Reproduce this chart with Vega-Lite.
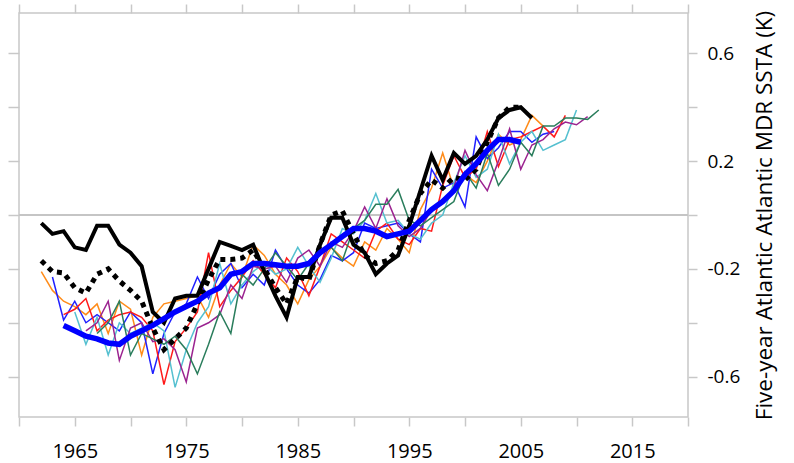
{
"$schema": "https://vega.github.io/schema/vega-lite/v6.json",
"width": 669, "height": 404,
"autosize": {"type": "none"},
"padding": {"left": 19, "top": 13, "right": 106, "bottom": 46},
"background": "white",
"config": {"view": {"stroke": "#c8c8c8", "strokeWidth": 1.5}, "font": "Open Sans"},
"datasets": {
"thin": [
{"s":"m1","t":1962,"v":-0.21},{"s":"m1","t":1963,"v":-0.28},{"s":"m1","t":1964,"v":-0.32},{"s":"m1","t":1965,"v":-0.34},{"s":"m1","t":1966,"v":-0.37},{"s":"m1","t":1967,"v":-0.33},{"s":"m1","t":1968,"v":-0.44},{"s":"m1","t":1969,"v":-0.32},{"s":"m1","t":1970,"v":-0.35},{"s":"m1","t":1971,"v":-0.52},{"s":"m1","t":1972,"v":-0.38},{"s":"m1","t":1973,"v":-0.33},{"s":"m1","t":1974,"v":-0.32},{"s":"m1","t":1975,"v":-0.31},{"s":"m1","t":1976,"v":-0.30},{"s":"m1","t":1977,"v":-0.38},{"s":"m1","t":1978,"v":-0.26},{"s":"m1","t":1979,"v":-0.18},{"s":"m1","t":1980,"v":-0.23},{"s":"m1","t":1981,"v":-0.11},{"s":"m1","t":1982,"v":-0.15},{"s":"m1","t":1983,"v":-0.22},{"s":"m1","t":1984,"v":-0.26},{"s":"m1","t":1985,"v":-0.33},{"s":"m1","t":1986,"v":-0.24},{"s":"m1","t":1987,"v":-0.19},{"s":"m1","t":1988,"v":-0.12},{"s":"m1","t":1989,"v":-0.16},{"s":"m1","t":1990,"v":-0.19},{"s":"m1","t":1991,"v":-0.10},{"s":"m1","t":1992,"v":-0.13},{"s":"m1","t":1993,"v":-0.05},{"s":"m1","t":1994,"v":-0.09},{"s":"m1","t":1995,"v":-0.14},{"s":"m1","t":1996,"v":0.02},{"s":"m1","t":1997,"v":0.10},{"s":"m1","t":1998,"v":0.23},{"s":"m1","t":1999,"v":0.10},{"s":"m1","t":2000,"v":0.15},{"s":"m1","t":2001,"v":0.12},{"s":"m1","t":2002,"v":0.20},{"s":"m1","t":2003,"v":0.30},{"s":"m1","t":2004,"v":0.26},{"s":"m1","t":2005,"v":0.28},{"s":"m1","t":2006,"v":0.37},{"s":"m1","t":2007,"v":0.33},
{"s":"m2","t":1963,"v":-0.23},{"s":"m2","t":1964,"v":-0.39},{"s":"m2","t":1965,"v":-0.32},{"s":"m2","t":1966,"v":-0.40},{"s":"m2","t":1967,"v":-0.37},{"s":"m2","t":1968,"v":-0.40},{"s":"m2","t":1969,"v":-0.43},{"s":"m2","t":1970,"v":-0.36},{"s":"m2","t":1971,"v":-0.40},{"s":"m2","t":1972,"v":-0.59},{"s":"m2","t":1973,"v":-0.44},{"s":"m2","t":1974,"v":-0.36},{"s":"m2","t":1975,"v":-0.33},{"s":"m2","t":1976,"v":-0.23},{"s":"m2","t":1977,"v":-0.31},{"s":"m2","t":1978,"v":-0.22},{"s":"m2","t":1979,"v":-0.18},{"s":"m2","t":1980,"v":-0.27},{"s":"m2","t":1981,"v":-0.22},{"s":"m2","t":1982,"v":-0.26},{"s":"m2","t":1983,"v":-0.13},{"s":"m2","t":1984,"v":-0.20},{"s":"m2","t":1985,"v":-0.26},{"s":"m2","t":1986,"v":-0.29},{"s":"m2","t":1987,"v":-0.24},{"s":"m2","t":1988,"v":-0.15},{"s":"m2","t":1989,"v":-0.17},{"s":"m2","t":1990,"v":-0.14},{"s":"m2","t":1991,"v":-0.03},{"s":"m2","t":1992,"v":-0.05},{"s":"m2","t":1993,"v":-0.04},{"s":"m2","t":1994,"v":-0.03},{"s":"m2","t":1995,"v":-0.07},{"s":"m2","t":1996,"v":-0.10},{"s":"m2","t":1997,"v":0.17},{"s":"m2","t":1998,"v":0.10},{"s":"m2","t":1999,"v":0.12},{"s":"m2","t":2000,"v":0.03},{"s":"m2","t":2001,"v":0.29},{"s":"m2","t":2002,"v":0.21},{"s":"m2","t":2003,"v":0.25},{"s":"m2","t":2004,"v":0.31},{"s":"m2","t":2005,"v":0.31},{"s":"m2","t":2006,"v":0.27},{"s":"m2","t":2007,"v":0.30},{"s":"m2","t":2008,"v":0.31},
{"s":"m3","t":1964,"v":-0.37},{"s":"m3","t":1965,"v":-0.35},{"s":"m3","t":1966,"v":-0.31},{"s":"m3","t":1967,"v":-0.43},{"s":"m3","t":1968,"v":-0.39},{"s":"m3","t":1969,"v":-0.37},{"s":"m3","t":1970,"v":-0.36},{"s":"m3","t":1971,"v":-0.38},{"s":"m3","t":1972,"v":-0.43},{"s":"m3","t":1973,"v":-0.63},{"s":"m3","t":1974,"v":-0.47},{"s":"m3","t":1975,"v":-0.42},{"s":"m3","t":1976,"v":-0.36},{"s":"m3","t":1977,"v":-0.14},{"s":"m3","t":1978,"v":-0.34},{"s":"m3","t":1979,"v":-0.28},{"s":"m3","t":1980,"v":-0.23},{"s":"m3","t":1981,"v":-0.17},{"s":"m3","t":1982,"v":-0.22},{"s":"m3","t":1983,"v":-0.27},{"s":"m3","t":1984,"v":-0.16},{"s":"m3","t":1985,"v":-0.21},{"s":"m3","t":1986,"v":-0.30},{"s":"m3","t":1987,"v":-0.19},{"s":"m3","t":1988,"v":-0.07},{"s":"m3","t":1989,"v":-0.10},{"s":"m3","t":1990,"v":-0.13},{"s":"m3","t":1991,"v":-0.16},{"s":"m3","t":1992,"v":-0.06},{"s":"m3","t":1993,"v":-0.03},{"s":"m3","t":1994,"v":-0.09},{"s":"m3","t":1995,"v":-0.11},{"s":"m3","t":1996,"v":-0.05},{"s":"m3","t":1997,"v":-0.06},{"s":"m3","t":1998,"v":0.11},{"s":"m3","t":1999,"v":0.22},{"s":"m3","t":2000,"v":0.14},{"s":"m3","t":2001,"v":0.17},{"s":"m3","t":2002,"v":0.31},{"s":"m3","t":2003,"v":0.18},{"s":"m3","t":2004,"v":0.28},{"s":"m3","t":2005,"v":0.29},{"s":"m3","t":2006,"v":0.31},{"s":"m3","t":2007,"v":0.33},{"s":"m3","t":2008,"v":0.29},{"s":"m3","t":2009,"v":0.37},
{"s":"m4","t":1965,"v":-0.36},{"s":"m4","t":1966,"v":-0.48},{"s":"m4","t":1967,"v":-0.38},{"s":"m4","t":1968,"v":-0.52},{"s":"m4","t":1969,"v":-0.40},{"s":"m4","t":1970,"v":-0.44},{"s":"m4","t":1971,"v":-0.42},{"s":"m4","t":1972,"v":-0.40},{"s":"m4","t":1973,"v":-0.43},{"s":"m4","t":1974,"v":-0.64},{"s":"m4","t":1975,"v":-0.50},{"s":"m4","t":1976,"v":-0.40},{"s":"m4","t":1977,"v":-0.34},{"s":"m4","t":1978,"v":-0.18},{"s":"m4","t":1979,"v":-0.33},{"s":"m4","t":1980,"v":-0.26},{"s":"m4","t":1981,"v":-0.21},{"s":"m4","t":1982,"v":-0.18},{"s":"m4","t":1983,"v":-0.22},{"s":"m4","t":1984,"v":-0.20},{"s":"m4","t":1985,"v":-0.12},{"s":"m4","t":1986,"v":-0.19},{"s":"m4","t":1987,"v":-0.25},{"s":"m4","t":1988,"v":-0.16},{"s":"m4","t":1989,"v":-0.05},{"s":"m4","t":1990,"v":-0.07},{"s":"m4","t":1991,"v":-0.02},{"s":"m4","t":1992,"v":0.08},{"s":"m4","t":1993,"v":-0.03},{"s":"m4","t":1994,"v":-0.02},{"s":"m4","t":1995,"v":-0.07},{"s":"m4","t":1996,"v":-0.09},{"s":"m4","t":1997,"v":-0.03},{"s":"m4","t":1998,"v":0.00},{"s":"m4","t":1999,"v":0.12},{"s":"m4","t":2000,"v":0.22},{"s":"m4","t":2001,"v":0.14},{"s":"m4","t":2002,"v":0.17},{"s":"m4","t":2003,"v":0.30},{"s":"m4","t":2004,"v":0.19},{"s":"m4","t":2005,"v":0.27},{"s":"m4","t":2006,"v":0.31},{"s":"m4","t":2007,"v":0.24},{"s":"m4","t":2008,"v":0.26},{"s":"m4","t":2009,"v":0.28},{"s":"m4","t":2010,"v":0.39},
{"s":"m5","t":1966,"v":-0.43},{"s":"m5","t":1967,"v":-0.40},{"s":"m5","t":1968,"v":-0.32},{"s":"m5","t":1969,"v":-0.54},{"s":"m5","t":1970,"v":-0.42},{"s":"m5","t":1971,"v":-0.40},{"s":"m5","t":1972,"v":-0.47},{"s":"m5","t":1973,"v":-0.46},{"s":"m5","t":1974,"v":-0.50},{"s":"m5","t":1975,"v":-0.62},{"s":"m5","t":1976,"v":-0.42},{"s":"m5","t":1977,"v":-0.40},{"s":"m5","t":1978,"v":-0.37},{"s":"m5","t":1979,"v":-0.26},{"s":"m5","t":1980,"v":-0.31},{"s":"m5","t":1981,"v":-0.19},{"s":"m5","t":1982,"v":-0.20},{"s":"m5","t":1983,"v":-0.19},{"s":"m5","t":1984,"v":-0.25},{"s":"m5","t":1985,"v":-0.16},{"s":"m5","t":1986,"v":-0.13},{"s":"m5","t":1987,"v":-0.19},{"s":"m5","t":1988,"v":-0.10},{"s":"m5","t":1989,"v":-0.12},{"s":"m5","t":1990,"v":-0.06},{"s":"m5","t":1991,"v":0.03},{"s":"m5","t":1992,"v":-0.05},{"s":"m5","t":1993,"v":0.06},{"s":"m5","t":1994,"v":-0.04},{"s":"m5","t":1995,"v":-0.08},{"s":"m5","t":1996,"v":-0.05},{"s":"m5","t":1997,"v":0.02},{"s":"m5","t":1998,"v":0.05},{"s":"m5","t":1999,"v":0.10},{"s":"m5","t":2000,"v":0.24},{"s":"m5","t":2001,"v":0.15},{"s":"m5","t":2002,"v":0.09},{"s":"m5","t":2003,"v":0.20},{"s":"m5","t":2004,"v":0.32},{"s":"m5","t":2005,"v":0.17},{"s":"m5","t":2006,"v":0.26},{"s":"m5","t":2007,"v":0.28},{"s":"m5","t":2008,"v":0.32},{"s":"m5","t":2009,"v":0.345},{"s":"m5","t":2010,"v":0.335},{"s":"m5","t":2011,"v":0.365},
{"s":"m6","t":1967,"v":-0.44},{"s":"m6","t":1968,"v":-0.40},{"s":"m6","t":1969,"v":-0.32},{"s":"m6","t":1970,"v":-0.52},{"s":"m6","t":1971,"v":-0.44},{"s":"m6","t":1972,"v":-0.46},{"s":"m6","t":1973,"v":-0.48},{"s":"m6","t":1974,"v":-0.45},{"s":"m6","t":1975,"v":-0.50},{"s":"m6","t":1976,"v":-0.59},{"s":"m6","t":1977,"v":-0.48},{"s":"m6","t":1978,"v":-0.36},{"s":"m6","t":1979,"v":-0.44},{"s":"m6","t":1980,"v":-0.22},{"s":"m6","t":1981,"v":-0.26},{"s":"m6","t":1982,"v":-0.20},{"s":"m6","t":1983,"v":-0.14},{"s":"m6","t":1984,"v":-0.19},{"s":"m6","t":1985,"v":-0.24},{"s":"m6","t":1986,"v":-0.18},{"s":"m6","t":1987,"v":-0.13},{"s":"m6","t":1988,"v":-0.12},{"s":"m6","t":1989,"v":-0.17},{"s":"m6","t":1990,"v":-0.05},{"s":"m6","t":1991,"v":-0.02},{"s":"m6","t":1992,"v":0.04},{"s":"m6","t":1993,"v":0.04},{"s":"m6","t":1994,"v":0.095},{"s":"m6","t":1995,"v":-0.02},{"s":"m6","t":1996,"v":-0.04},{"s":"m6","t":1997,"v":-0.01},{"s":"m6","t":1998,"v":0.02},{"s":"m6","t":1999,"v":0.05},{"s":"m6","t":2000,"v":0.16},{"s":"m6","t":2001,"v":0.10},{"s":"m6","t":2002,"v":0.23},{"s":"m6","t":2003,"v":0.11},{"s":"m6","t":2004,"v":0.17},{"s":"m6","t":2005,"v":0.27},{"s":"m6","t":2006,"v":0.22},{"s":"m6","t":2007,"v":0.33},{"s":"m6","t":2008,"v":0.33},{"s":"m6","t":2009,"v":0.36},{"s":"m6","t":2010,"v":0.36},{"s":"m6","t":2011,"v":0.355},{"s":"m6","t":2012,"v":0.39}
],
"obs": [
{"t":1962,"v":-0.03},{"t":1963,"v":-0.07},{"t":1964,"v":-0.06},{"t":1965,"v":-0.12},{"t":1966,"v":-0.13},{"t":1967,"v":-0.04},{"t":1968,"v":-0.04},{"t":1969,"v":-0.11},{"t":1970,"v":-0.14},{"t":1971,"v":-0.19},{"t":1972,"v":-0.36},{"t":1973,"v":-0.40},{"t":1974,"v":-0.31},{"t":1975,"v":-0.30},{"t":1976,"v":-0.30},{"t":1977,"v":-0.20},{"t":1978,"v":-0.10},{"t":1979,"v":-0.115},{"t":1980,"v":-0.13},{"t":1981,"v":-0.11},{"t":1982,"v":-0.21},{"t":1983,"v":-0.30},{"t":1984,"v":-0.38},{"t":1985,"v":-0.23},{"t":1986,"v":-0.23},{"t":1987,"v":-0.11},{"t":1988,"v":-0.01},{"t":1989,"v":-0.01},{"t":1990,"v":-0.11},{"t":1991,"v":-0.14},{"t":1992,"v":-0.22},{"t":1993,"v":-0.18},{"t":1994,"v":-0.15},{"t":1995,"v":-0.04},{"t":1996,"v":0.09},{"t":1997,"v":0.22},{"t":1998,"v":0.13},{"t":1999,"v":0.23},{"t":2000,"v":0.19},{"t":2001,"v":0.22},{"t":2002,"v":0.28},{"t":2003,"v":0.36},{"t":2004,"v":0.39},{"t":2005,"v":0.40},{"t":2006,"v":0.36}
],
"obs2": [
{"t":1962,"v":-0.17},{"t":1963,"v":-0.21},{"t":1964,"v":-0.215},{"t":1965,"v":-0.27},{"t":1966,"v":-0.29},{"t":1967,"v":-0.22},{"t":1968,"v":-0.20},{"t":1969,"v":-0.245},{"t":1970,"v":-0.28},{"t":1971,"v":-0.32},{"t":1972,"v":-0.42},{"t":1973,"v":-0.50},{"t":1974,"v":-0.46},{"t":1975,"v":-0.42},{"t":1976,"v":-0.33},{"t":1977,"v":-0.24},{"t":1978,"v":-0.165},{"t":1979,"v":-0.165},{"t":1980,"v":-0.16},{"t":1981,"v":-0.13},{"t":1982,"v":-0.20},{"t":1983,"v":-0.27},{"t":1984,"v":-0.33},{"t":1985,"v":-0.23},{"t":1986,"v":-0.24},{"t":1987,"v":-0.11},{"t":1988,"v":0.0},{"t":1989,"v":0.015},{"t":1990,"v":-0.07},{"t":1991,"v":-0.15},{"t":1992,"v":-0.18},{"t":1993,"v":-0.17},{"t":1994,"v":-0.13},{"t":1995,"v":-0.02},{"t":1996,"v":0.08},{"t":1997,"v":0.13},{"t":1998,"v":0.10},{"t":1999,"v":0.14},{"t":2000,"v":0.13},{"t":2001,"v":0.17},{"t":2002,"v":0.27},{"t":2003,"v":0.36},{"t":2004,"v":0.40},{"t":2005,"v":0.40}
],
"mean": [
{"t":1964,"v":-0.41},{"t":1965,"v":-0.43},{"t":1966,"v":-0.45},{"t":1967,"v":-0.46},{"t":1968,"v":-0.475},{"t":1969,"v":-0.48},{"t":1970,"v":-0.45},{"t":1971,"v":-0.43},{"t":1972,"v":-0.41},{"t":1973,"v":-0.385},{"t":1974,"v":-0.36},{"t":1975,"v":-0.34},{"t":1976,"v":-0.32},{"t":1977,"v":-0.29},{"t":1978,"v":-0.27},{"t":1979,"v":-0.22},{"t":1980,"v":-0.21},{"t":1981,"v":-0.18},{"t":1982,"v":-0.18},{"t":1983,"v":-0.185},{"t":1984,"v":-0.19},{"t":1985,"v":-0.19},{"t":1986,"v":-0.18},{"t":1987,"v":-0.14},{"t":1988,"v":-0.11},{"t":1989,"v":-0.08},{"t":1990,"v":-0.05},{"t":1991,"v":-0.05},{"t":1992,"v":-0.06},{"t":1993,"v":-0.08},{"t":1994,"v":-0.07},{"t":1995,"v":-0.06},{"t":1996,"v":-0.02},{"t":1997,"v":0.02},{"t":1998,"v":0.05},{"t":1999,"v":0.09},{"t":2000,"v":0.15},{"t":2001,"v":0.19},{"t":2002,"v":0.24},{"t":2003,"v":0.28},{"t":2004,"v":0.28},{"t":2005,"v":0.27}
]
},
"layer": [
{"data": {"name": "mean"}, "mark": {"type": "rule", "color": "#c4c4c4", "strokeWidth": 1.5},
 "encoding": {"y": {"datum": 0, "type": "quantitative", "axis": null}}},
{"data": {"name": "thin"}, "mark": {"type": "line", "strokeWidth": 1.5},
 "encoding": {
  "x": {"field": "t", "type": "quantitative", "scale": {"domain": [1960, 2020], "nice": false, "zero": false},
        "axis": {"orient": "bottom", "values": [1960,1965,1970,1975,1980,1985,1990,1995,2000,2005,2010,2015,2020], "format": "d",
                 "labelExpr": "datum.value % 10 == 5 ? datum.label : ''", "labelFlush": false, "labelOverlap": false,
                 "domain": false, "grid": false, "tickColor": "#c8c8c8", "tickWidth": 1.5, "tickSize": 9,
                 "labelFontSize": 20, "labelColor": "#000", "labelPadding": 15, "labelFont": "Open Sans", "title": null}},
  "y": {"field": "v", "type": "quantitative", "scale": {"domain": [-0.75, 0.75], "nice": false, "zero": false},
        "axis": {"orient": "right", "values": [-0.6,-0.4,-0.2,0,0.2,0.4,0.6], "format": ".1f",
                 "labelExpr": "abs(round(datum.value*10)) % 4 == 2 ? replace(datum.label, '\u2212', '-') : ''",
                 "labelOverlap": false, "labelFlush": false,
                 "domain": false, "grid": false, "tickColor": "#c8c8c8", "tickWidth": 1.5, "tickSize": 9,
                 "labelFontSize": 19, "labelColor": "#000", "labelPadding": 10, "labelFont": "Open Sans",
                 "title": "Five-year Atlantic Atlantic MDR SSTA (K)", "titleAngle": 270, "titleBaseline": "top", "titleFontSize": 22.5,
                 "titleFontWeight": "normal", "titleColor": "#000", "titleFont": "Open Sans", "titlePadding": 14}},
  "color": {"field": "s", "type": "nominal", "legend": null,
            "scale": {"domain": ["m1","m2","m3","m4","m5","m6"], "range": ["#ff8c1a","#2020ff","#ff1a1a","#55c0d0","#9b2390","#2a7d5c"]}}
 }},
{"data": {"name": "obs"}, "mark": {"type": "line", "strokeWidth": 4, "color": "#000", "strokeJoin": "miter"},
 "encoding": {
  "x": {"field": "t", "type": "quantitative", "axis": {"orient": "top", "values": [1960,1965,1970,1975,1980,1985,1990,1995,2000,2005,2010,2015,2020], "labels": false, "domain": false, "grid": false, "tickColor": "#c8c8c8", "tickWidth": 1.5, "tickSize": 9, "title": null}},
  "y": {"field": "v", "type": "quantitative", "axis": {"orient": "left", "values": [-0.6,-0.4,-0.2,0,0.2,0.4,0.6], "labels": false, "domain": false, "grid": false, "tickColor": "#c8c8c8", "tickWidth": 1.5, "tickSize": 11, "title": null}}
 }},
{"data": {"name": "obs2"}, "mark": {"type": "line", "strokeWidth": 5, "color": "#000", "strokeDash": [5, 5], "strokeCap": "butt"},
 "encoding": {
  "x": {"field": "t", "type": "quantitative", "axis": null},
  "y": {"field": "v", "type": "quantitative", "axis": null}
 }},
{"data": {"name": "mean"}, "mark": {"type": "line", "strokeWidth": 5.5, "color": "#0000ff"},
 "encoding": {
  "x": {"field": "t", "type": "quantitative", "axis": null},
  "y": {"field": "v", "type": "quantitative", "axis": null}
 }}
],
"resolve": {"axis": {"x": "independent", "y": "independent"}}
}
